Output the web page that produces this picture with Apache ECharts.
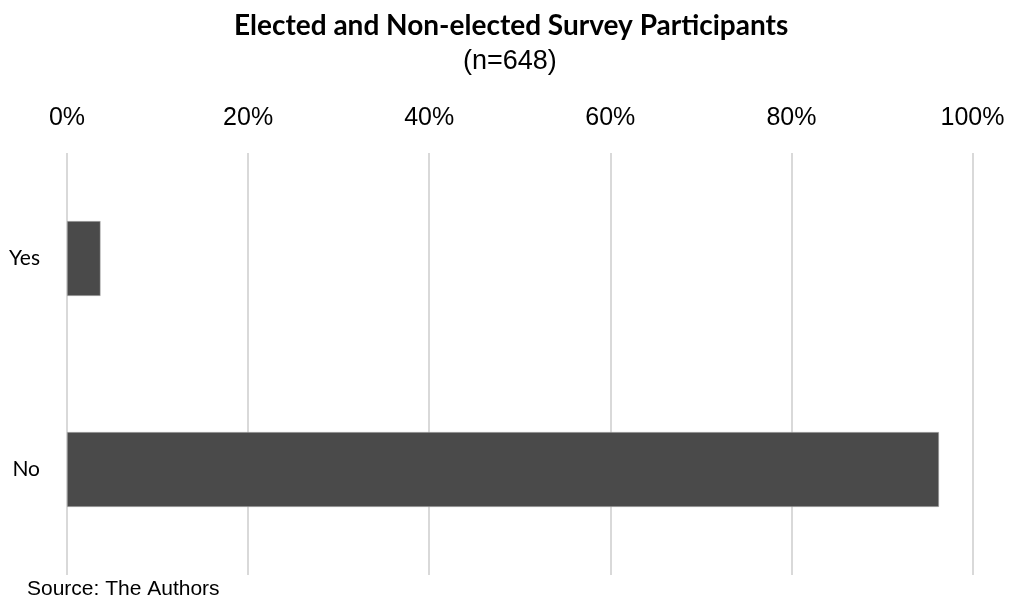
<!DOCTYPE html>
<html><head><meta charset="utf-8">
<script src="https://cdn.jsdelivr.net/npm/echarts@6/dist/echarts.min.js"></script>
<style>html,body{margin:0;padding:0;background:#fff}#c{width:1009px;height:598px}</style>
</head><body><div id="c"></div>
<script>
const categories = ['Yes', 'No'];
const values = [3.7, 96.3];
const tickMin = 0, tickMax = 100, tickStep = 20;
const titleText = 'Elected and Non-elected Survey Participants';
const subtitleText = '(n=648)';
const sourceText = 'Source: The Authors';

const chart = echarts.init(document.getElementById('c'), null, {renderer: 'canvas'});
chart.setOption({
  animation: false,
  backgroundColor: '#ffffff',
  title: [
    {text: titleText, left: 229, top: 7,
     textStyle: {fontFamily: 'Lato', fontWeight: 'bold', fontSize: 28, color: '#000'}},
    {text: subtitleText, left: 458, top: 43,
     textStyle: {fontFamily: 'Liberation Sans', fontWeight: 'normal', fontSize: 27, color: '#000'}},
    {text: sourceText, left: 22, top: 574,
     textStyle: {fontFamily: 'Liberation Sans', fontWeight: 'normal', fontSize: 21, color: '#000'}}
  ],
  grid: {left: 67, right: 36.5, top: 153, bottom: 23, containLabel: false},
  xAxis: {
    type: 'value', position: 'top', min: tickMin, max: tickMax, interval: tickStep,
    axisLine: {show: false}, axisTick: {show: false},
    axisLabel: {formatter: '{value}%', margin: 22, fontFamily: 'Liberation Sans', fontSize: 25, color: '#000'},
    splitLine: {show: true, lineStyle: {color: '#d9d9d9', width: 2}}
  },
  yAxis: {
    type: 'category', data: categories, inverse: true,
    axisLine: {show: false}, axisTick: {show: false},
    axisLabel: {margin: 27, fontFamily: 'Lato', fontSize: 21, color: '#000'}
  },
  series: [{
    type: 'bar', data: values, barWidth: '35.5%',
    itemStyle: {color: '#4a4a4a', borderColor: '#bdbdbd', borderWidth: 0.5}
  }]
});
</script></body></html>
